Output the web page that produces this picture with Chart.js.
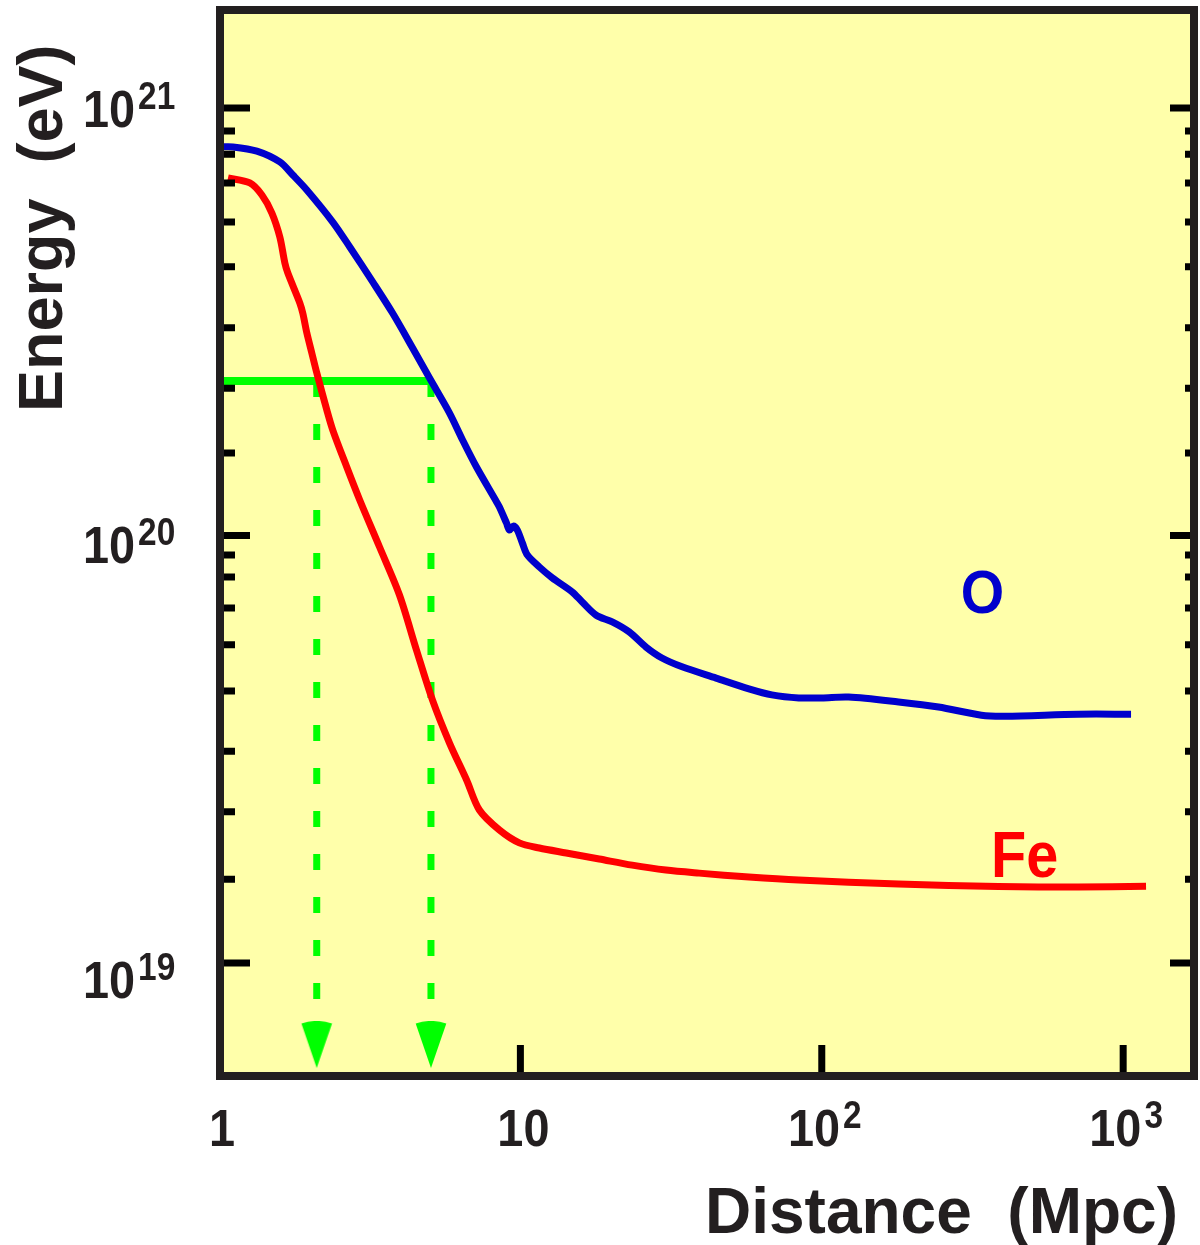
<!DOCTYPE html>
<html>
<head>
<meta charset="utf-8">
<script src="https://cdn.jsdelivr.net/npm/chart.js@4/dist/chart.umd.min.js"></script>
<style>
html,body{margin:0;padding:0;background:#ffffff;}
canvas{display:block;}
</style>
</head>
<body>
<canvas id="c" width="1200" height="1245"></canvas>
<script>
// ---------- data ----------
const oDistance = [1.0, 1.113, 1.336, 1.592, 1.758, 1.956, 2.385, 2.716, 3.236, 3.77, 4.39, 4.995, 5.82, 6.43, 7.15, 8.33, 8.52, 8.99, 9.20, 9.48, 9.77, 10.15, 10.55, 11.56, 12.76, 14.86, 16.04, 17.85, 20.17, 22.96, 26.14, 29.5, 34.4, 44.6, 57.3, 68.3, 83.9, 100, 122.8, 179.8, 244, 338.6, 406.5, 709.6, 1062];
const oEnergy = [8.11e20, 8.11e20, 7.93e20, 7.48e20, 6.97e20, 6.43e20, 5.41e20, 4.73e20, 3.92e20, 3.31e20, 2.746e20, 2.335e20, 1.934e20, 1.673e20, 1.446e20, 1.20e20, 1.166e20, 1.070e20, 1.030e20, 1.052e20, 1.030e20, 9.61e19, 9.00e19, 8.44e19, 7.96e19, 7.38e19, 6.99e19, 6.51e19, 6.28e19, 5.95e19, 5.48e19, 5.17e19, 4.93e19, 4.64e19, 4.38e19, 4.24e19, 4.17e19, 4.17e19, 4.19e19, 4.08e19, 3.97e19, 3.80e19, 3.78e19, 3.82e19, 3.82e19];

const feDistance = [1.071, 1.266, 1.388, 1.498, 1.592, 1.654, 1.692, 1.854, 1.897, 1.956, 2.032, 2.111, 2.279, 2.385, 2.654, 2.93, 3.41, 3.97, 4.52, 5.11, 5.82, 6.63, 7.31, 8.52, 9.92, 11.56, 14.2, 18.26, 23.5, 30.4, 39.2, 57.3, 83.9, 179.8, 385.5, 709.6, 1191];
const feEnergy = [6.86e20, 6.68e20, 6.26e20, 5.68e20, 4.99e20, 4.34e20, 4.11e20, 3.50e20, 3.31e20, 2.98e20, 2.673e20, 2.40e20, 1.966e20, 1.765e20, 1.446e20, 1.211e20, 9.40e19, 7.26e19, 5.40e19, 4.12e19, 3.27e19, 2.68e19, 2.28e19, 2.047e19, 1.91e19, 1.858e19, 1.809e19, 1.751e19, 1.694e19, 1.650e19, 1.623e19, 1.589e19, 1.563e19, 1.53e19, 1.51e19, 1.506e19, 1.513e19];

// green marker: energy level and the distances where Fe and O reach it
const markerEnergy = 2.30e20;
const markerStartDistance = 1.0;
const markerDistances = [2.11, 5.05];
const dashEndEnergy = 7.28e18;
const arrowEnergy = 6.43e18;

// axis ranges and ticks
const xRange = [1.0077, 1718];
const yRange = [5.442e18, 1.6953e21];
const xMajorTicks = [1, 10, 100, 1000];
const xTickBase = ['1', '10', '10', '10'];
const xTickExp = ['', '', '2', '3'];
const yMajorTicks = [1e19, 1e20, 1e21];
const yTickExp = ['19', '20', '21'];
const yMinorTicks = [1.57e19, 2.26e19, 3.13e19, 4.33e19, 5.55e19, 6.77e19, 8.0e19, 9.0e19,
                     1.56e20, 2.21e20, 3.06e20, 4.25e20, 5.41e20, 6.68e20, 7.80e20, 8.84e20];

const xTitle = 'Distance  (Mpc)';
const yTitle = 'Energy  (eV)';
const seriesLabels = ['O', 'Fe'];

// ---------- helpers ----------
const FONT = '"Liberation Sans", Arial, Helvetica, sans-serif';
const INK = '#231F20';
const BLUE = '#0000CC';
const RED = '#FF0000';
const GREEN = '#00FF00';

function zip(xs, ys) { return xs.map((x, i) => ({x: x, y: ys[i]})); }

function makeArrow() {
  const c = document.createElement('canvas');
  c.width = 32; c.height = 48;
  const g = c.getContext('2d');
  g.fillStyle = GREEN;
  const ax = 16, ay = 47, r = 47, half = 19 * Math.PI / 180;
  g.beginPath();
  g.moveTo(ax, ay);
  g.arc(ax, ay, r, -Math.PI / 2 - half, -Math.PI / 2 + half);
  g.closePath();
  g.fill();
  return c;
}
const arrowImg = makeArrow();

function txt(ctx, s, x, y, size, color, sx, align) {
  ctx.save();
  ctx.font = 'bold ' + size + 'px ' + FONT;
  ctx.fillStyle = color;
  ctx.textBaseline = 'alphabetic';
  ctx.textAlign = align || 'left';
  ctx.translate(x, y);
  ctx.scale(sx, 1);
  ctx.fillText(s, 0, 0);
  ctx.restore();
}
function tw(ctx, s, size, sx) {
  ctx.save();
  ctx.font = 'bold ' + size + 'px ' + FONT;
  const w = ctx.measureText(s).width * sx;
  ctx.restore();
  return w;
}

const decor = {
  id: 'decor',
  beforeDatasetsDraw(chart) {
    const {ctx, chartArea: a} = chart;
    ctx.save();
    ctx.fillStyle = '#FFFFAA';
    ctx.fillRect(a.left, a.top, a.right - a.left, a.bottom - a.top);
    ctx.restore();
  },
  afterDraw(chart) {
    const {ctx, chartArea: a} = chart;
    const xs = chart.scales.x, ys = chart.scales.y;
    ctx.save();
    ctx.strokeStyle = '#000';
    ctx.lineCap = 'butt';
    ctx.lineWidth = 7;
    ctx.beginPath();
    yMajorTicks.forEach(v => {
      const p = ys.getPixelForValue(v);
      ctx.moveTo(a.left, p); ctx.lineTo(a.left + 30, p);
      ctx.moveTo(a.right, p); ctx.lineTo(a.right - 24, p);
    });
    yMinorTicks.forEach(v => {
      const p = ys.getPixelForValue(v);
      ctx.moveTo(a.left, p); ctx.lineTo(a.left + 15, p);
      ctx.moveTo(a.right, p); ctx.lineTo(a.right - 9, p);
    });
    xMajorTicks.forEach(v => {
      const p = xs.getPixelForValue(v);
      if (p > a.left + 5) { ctx.moveTo(p, a.bottom); ctx.lineTo(p, a.bottom - 31); }
    });
    ctx.stroke();
    // frame
    ctx.strokeStyle = INK;
    ctx.lineWidth = 8;
    ctx.lineJoin = 'miter';
    ctx.strokeRect(a.left, a.top, a.right - a.left, a.bottom - a.top);
    ctx.restore();

    // y tick labels
    yMajorTicks.forEach((v, i) => {
      const p = ys.getPixelForValue(v);
      const e = parseInt(yTickExp[i], 10);
      const base = p + 27 - 8 * (e - 20);
      const w10 = tw(ctx, '10', 52, 0.9);
      txt(ctx, '10', 83, base, 52, INK, 0.9);
      txt(ctx, yTickExp[i], 83 + w10 + 3, base - 18, 38, INK, 0.88);
    });
    // x tick labels
    xMajorTicks.forEach((v, i) => {
      const p = xs.getPixelForValue(v);
      const wb = tw(ctx, xTickBase[i], 52, 0.9);
      const we = xTickExp[i] ? 3 + tw(ctx, xTickExp[i], 38, 0.88) : 0;
      const start = p + 3 - (wb + we) / 2;
      txt(ctx, xTickBase[i], start, 1146, 52, INK, 0.9);
      if (xTickExp[i]) txt(ctx, xTickExp[i], start + wb + 3, 1128, 38, INK, 0.88);
    });
    // axis titles
    ctx.save();
    ctx.translate(62, 412);
    ctx.rotate(-Math.PI / 2);
    ctx.font = 'bold 63px ' + FONT;
    ctx.fillStyle = INK;
    ctx.textAlign = 'left';
    ctx.textBaseline = 'alphabetic';
    ctx.fillText(yTitle, 0, 0);
    ctx.restore();
    txt(ctx, xTitle, 705, 1233, 64, INK, 1);
    // series labels
    txt(ctx, seriesLabels[0], 982.5, 613, 62, BLUE, 0.9, 'center');
    txt(ctx, seriesLabels[1], 991, 877, 64, RED, 0.9);
  }
};

const lineCommon = {
  showLine: true,
  pointRadius: 0,
  borderWidth: 7,
  tension: 0.3,
  borderCapStyle: 'butt',
  borderJoinStyle: 'round',
  fill: false
};

new Chart(document.getElementById('c'), {
  type: 'scatter',
  data: {
    datasets: [
      Object.assign({label: seriesLabels[1], data: zip(feDistance, feEnergy), borderColor: RED, order: 1}, lineCommon),
      Object.assign({label: seriesLabels[0], data: zip(oDistance, oEnergy), borderColor: BLUE, order: 2}, lineCommon),
      {label: 'level', data: [{x: markerStartDistance, y: markerEnergy}, {x: markerDistances[1], y: markerEnergy}],
       showLine: true, pointRadius: 0, borderWidth: 8, borderColor: GREEN, borderCapStyle: 'butt', order: 3},
      {label: 'dropFe', data: [{x: markerDistances[0], y: markerEnergy}, {x: markerDistances[0], y: dashEndEnergy}],
       showLine: true, pointRadius: 0, borderWidth: 7, borderColor: GREEN, borderDash: [16, 27], borderCapStyle: 'butt', order: 4},
      {label: 'dropO', data: [{x: markerDistances[1], y: markerEnergy}, {x: markerDistances[1], y: dashEndEnergy}],
       showLine: true, pointRadius: 0, borderWidth: 7, borderColor: GREEN, borderDash: [16, 27], borderCapStyle: 'butt', order: 4},
      {label: 'arrows', data: markerDistances.map(d => ({x: d, y: arrowEnergy})),
       showLine: false, pointRadius: 5, pointStyle: arrowImg, order: 0}
    ]
  },
  options: {
    responsive: false,
    maintainAspectRatio: false,
    animation: false,
    devicePixelRatio: 1,
    layout: {padding: {left: 220, right: 4, top: 10, bottom: 169}},
    plugins: {legend: {display: false}, tooltip: {enabled: false}},
    events: [],
    scales: {
      x: {type: 'logarithmic', min: xRange[0], max: xRange[1], bounds: 'data', display: false},
      y: {type: 'logarithmic', min: yRange[0], max: yRange[1], bounds: 'data', display: false}
    }
  },
  plugins: [decor]
});
</script>
</body>
</html>
